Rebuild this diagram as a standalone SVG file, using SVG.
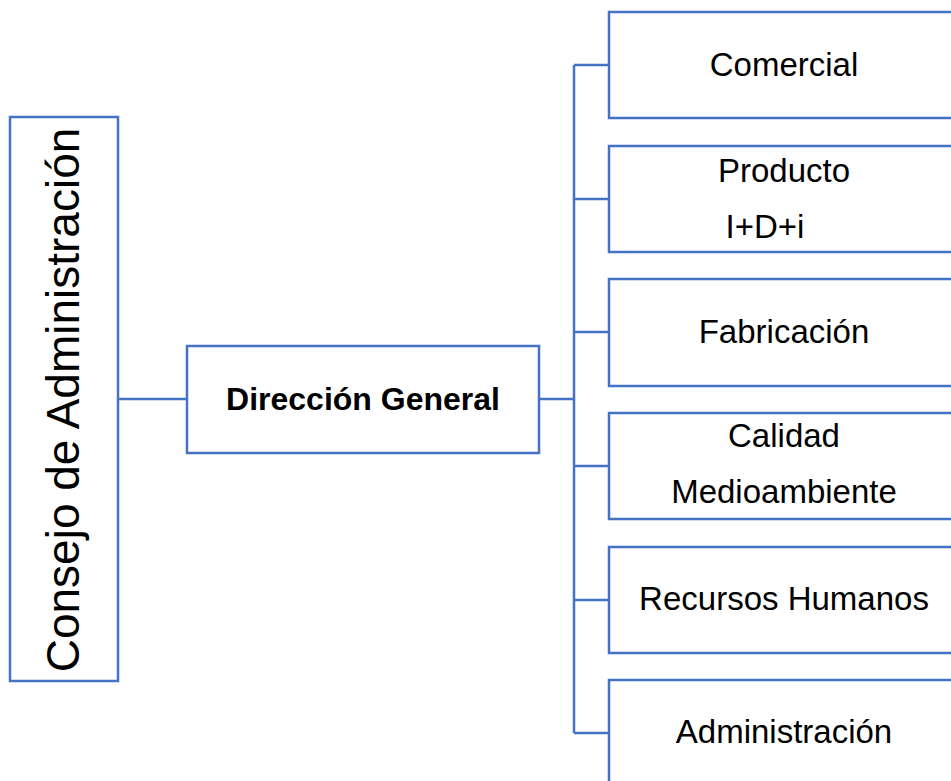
<svg xmlns="http://www.w3.org/2000/svg" width="951" height="781" viewBox="0 0 951 781">
<style>
.box{fill:#fff;stroke:#4472C4;stroke-width:2.5}
.ln{fill:none;stroke:#4472C4;stroke-width:2.5}
.t{font-family:"Liberation Sans",Arial,sans-serif;font-size:33px;fill:#000;text-anchor:middle}
.b{font-weight:bold;font-size:32px}
</style>
<rect width="951" height="781" fill="#fff"/>
<g id="connectors">
<line class="ln" x1="118" y1="399" x2="187" y2="399"/>
<line class="ln" x1="539" y1="399" x2="574" y2="399"/>
<line class="ln" x1="574" y1="65" x2="574" y2="733"/>
<line class="ln" x1="574" y1="65" x2="609" y2="65"/>
<line class="ln" x1="574" y1="199" x2="609" y2="199"/>
<line class="ln" x1="574" y1="332" x2="609" y2="332"/>
<line class="ln" x1="574" y1="466" x2="609" y2="466"/>
<line class="ln" x1="574" y1="600" x2="609" y2="600"/>
<line class="ln" x1="574" y1="733" x2="609" y2="733"/>
</g>
<g id="consejo">
<rect class="box" x="10" y="117" width="108" height="564"/>
<text class="t" style="font-size:46px" transform="translate(79,400) rotate(-90)" x="0" y="0">Consejo de Administración</text>
</g>
<g id="direccion">
<rect class="box" x="187" y="346" width="352" height="107"/>
<text class="t b" x="363" y="410">Dirección General</text>
</g>
<g id="comercial">
<rect class="box" x="609" y="12" width="370" height="106"/>
<text class="t" x="784" y="76">Comercial</text>
</g>
<g id="producto">
<rect class="box" x="609" y="146" width="370" height="106"/>
<text class="t" x="784" y="182">Producto</text>
<text class="t" x="765" y="238">I+D+i</text>
</g>
<g id="fabricacion">
<rect class="box" x="609" y="279" width="370" height="107"/>
<text class="t" x="784" y="343">Fabricación</text>
</g>
<g id="calidad">
<rect class="box" x="609" y="413" width="370" height="106"/>
<text class="t" x="784" y="447">Calidad</text>
<text class="t" x="784" y="503">Medioambiente</text>
</g>
<g id="rrhh">
<rect class="box" x="609" y="547" width="370" height="106"/>
<text class="t" x="784" y="610">Recursos Humanos</text>
</g>
<g id="administracion">
<rect class="box" x="609" y="680" width="370" height="130"/>
<text class="t" x="784" y="743">Administración</text>
</g>
</svg>
